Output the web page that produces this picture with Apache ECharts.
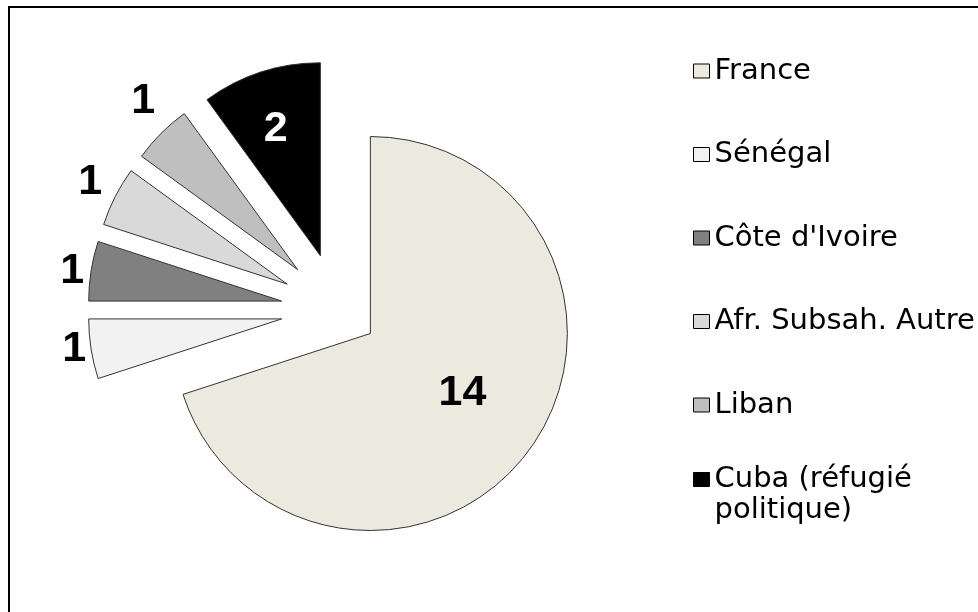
<!DOCTYPE html>
<html>
<head>
<meta charset="utf-8">
<script src="https://cdn.jsdelivr.net/npm/echarts@6/dist/echarts.min.js"></script>
<style>
html,body{margin:0;padding:0;background:#fff;}
#chart{width:978px;height:612px;}
</style>
</head>
<body>
<div id="chart"></div>
<script>
const categories = ['France', 'Sénégal', "Côte d'Ivoire", 'Afr. Subsah. Autre', 'Liban', 'Cuba (réfugié politique)'];
const values = [14, 1, 1, 1, 1, 2];
const colors = ['#ECE9DF', '#F2F2F2', '#808080', '#D9D9D9', '#BFBFBF', '#000000'];

const chart = echarts.init(document.getElementById('chart'), null, {renderer: 'canvas'});

const center = [338, 310];
const labelFont = {fontFamily: 'Liberation Sans', fontWeight: 'bold', fontSize: 43};
// per-item label nudges: horizontal padding and upward lift
const labelPad = [[0, 0, 0, 20], [0, 5, 0, 0], [0, 7, 0, 0], [0, 13, 0, 0], [0, 6, 0, 0], [0, 28, 0, 0]];
const labelLift = [0, 0, 0, 14, 32, 32];
const hidden = {color: 'rgba(0,0,0,0)', borderWidth: 0};

function labelFor(i, position, color) {
  const lift = labelLift[i];
  const l = {
    show: true, position: position, color: color, padding: labelPad[i], ...labelFont,
    formatter: lift > 0 ? '{c}\n ' : '{c}'
  };
  if (lift > 0) l.lineHeight = lift * 2;
  return l;
}

const dataFrance = categories.map((n, i) => i === 0 ? {
  name: n, value: values[i], selected: true,
  itemStyle: {color: colors[i]},
  label: labelFor(i, 'inside', '#000')
} : {
  name: n, value: values[i], itemStyle: hidden, label: {show: false}
});

const dataOthers = categories.map((n, i) => i === 0 ? {
  name: n, value: values[i], itemStyle: hidden, label: {show: false}
} : {
  name: n, value: values[i], selected: true,
  itemStyle: {color: colors[i]},
  label: i === 5 ? labelFor(i, 'inside', '#fff') : labelFor(i, 'outside', '#000')
});

const legendText = {fontFamily: 'DejaVu Sans', fontSize: 29, lineHeight: 30, color: '#000'};

chart.setOption({
  animation: false,
  backgroundColor: '#fff',
  graphic: [{
    type: 'rect', x: 9, y: 7, silent: true,
    shape: {width: 2000, height: 2000},
    style: {fill: 'none', stroke: '#000', lineWidth: 2}
  }],
  legend: [{
    orient: 'vertical', left: 688, top: 51,
    icon: 'rect', itemWidth: 16, itemHeight: 14, itemGap: 53.5,
    selectedMode: false,
    textStyle: legendText,
    data: categories.slice(0, 5).map((n, i) => ({name: n, itemStyle: {color: colors[i], borderColor: '#000', borderWidth: 1}}))
  }, {
    orient: 'vertical', left: 688, top: 428,
    icon: 'rect', itemWidth: 16, itemHeight: 14,
    selectedMode: false,
    textStyle: {...legendText, lineHeight: 31},
    formatter: (n) => ' \n' + n.replace(' politique', '\npolitique'),
    data: [{name: categories[5], itemStyle: {color: colors[5], borderColor: '#000', borderWidth: 1}}]
  }],
  series: [{
    type: 'pie', name: 'France', center: center, radius: 197,
    startAngle: 90, clockwise: true,
    selectedMode: 'single', selectedOffset: 40,
    silent: true, emphasis: {disabled: true},
    avoidLabelOverlap: false,
    itemStyle: {borderColor: '#333', borderWidth: 1},
    labelLine: {show: false},
    data: dataFrance
  }, {
    type: 'pie', name: 'Autres', center: center, radius: 193,
    startAngle: 90, clockwise: true,
    selectedMode: 'multiple', selectedOffset: 57,
    silent: true, emphasis: {disabled: true},
    avoidLabelOverlap: false,
    itemStyle: {borderColor: '#333', borderWidth: 1},
    label: {distanceToLabelLine: 0},
    labelLine: {show: false, length: 0, length2: 0},
    data: dataOthers
  }]
});
</script>
</body>
</html>
